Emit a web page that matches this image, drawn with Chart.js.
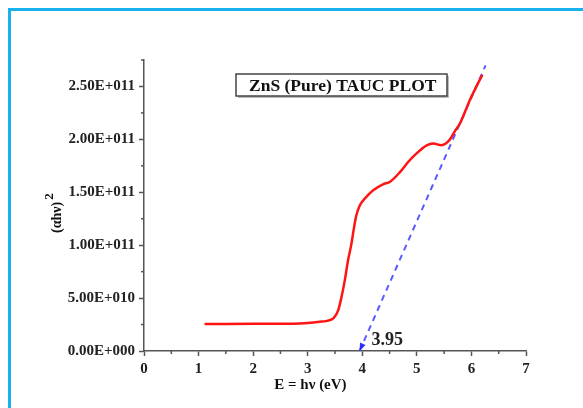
<!DOCTYPE html>
<html>
<head>
<meta charset="utf-8">
<script src="https://cdn.jsdelivr.net/npm/chart.js@4.4.0/dist/chart.umd.min.js"></script>
<style>
html, body { margin: 0; padding: 0; background: #fff; }
#wrap { position: relative; width: 583px; height: 408px; overflow: hidden; }
#frame { position: absolute; left: 8px; top: 8px; width: 700px; height: 500px;
         border-left: 3px solid #17b1ee; border-top: 3px solid #17b1ee; }
canvas { position: absolute; left: 0; top: 0; }
</style>
</head>
<body>
<div id="wrap"><div id="frame"></div><canvas id="c" width="583" height="408"></canvas></div>
<script>
// photon energy E = h nu (eV)
var energy = [1.11, 1.5, 2.0, 2.5, 2.86, 3.0, 3.22, 3.35, 3.47, 3.56, 3.62, 3.68, 3.74, 3.80, 3.84,
              3.89, 3.95, 4.02, 4.10, 4.20, 4.38, 4.51, 4.69, 4.84, 4.99, 5.18, 5.30, 5.45, 5.60,
              5.70, 5.79, 5.97, 6.15, 6.20];
// (alpha h nu)^2
var tauc = [2.55e10, 2.56e10, 2.57e10, 2.58e10, 2.61e10, 2.65e10, 2.76e10, 2.85e10, 3.08e10, 3.87e10,
            5.12e10, 6.7e10, 8.6e10, 10.1e10, 11.4e10, 12.8e10, 13.7e10, 14.25e10, 14.7e10, 15.2e10,
            15.75e10, 16.0e10, 16.9e10, 17.86e10, 18.65e10, 19.43e10, 19.6e10, 19.45e10, 19.95e10,
            20.8e10, 21.5e10, 23.7e10, 25.6e10, 26.1e10];
// extrapolated straight line of the absorption edge
var fitEnergy = [3.95, 6.26];
var fitTauc = [0, 2.70e11];
var bandGap = 3.95;

var yTickValues = [0, 5e10, 1e11, 1.5e11, 2e11, 2.5e11];
var yTickLabels = ['0.00E+000', '5.00E+010', '1.00E+011', '1.50E+011', '2.00E+011', '2.50E+011'];
var xTickValues = [0, 1, 2, 3, 4, 5, 6, 7];
var xTickLabels = ['0', '1', '2', '3', '4', '5', '6', '7'];

var plotTitle = 'ZnS (Pure) TAUC PLOT';
var xTitle = 'E = hν (eV)';
var yTitle = '(αhν)';
var yTitleSup = '2';

var serif = '"Liberation Serif", "Times New Roman", serif';
var axisColor = '#555';

function findLabel(values, labels, v, tol) {
    for (var i = 0; i < values.length; i++) {
        if (Math.abs(values[i] - v) < tol) return labels[i];
    }
    return '';
}

function toPoints(xs, ys) {
    return xs.map(function (x, i) { return { x: x, y: ys[i] }; });
}

// majors are drawn by Chart.js, minors are drawn shorter here
function majorTickColor(tol, values) {
    return function (ctx) {
        if (!ctx.tick) return axisColor;
        return findLabel(values, values, ctx.tick.value, tol) === '' ? 'rgba(0,0,0,0)' : axisColor;
    };
}

var extras = {
    id: 'extras',
    afterDraw: function (chart) {
        var ctx = chart.ctx;
        var xs = chart.scales.x, ys = chart.scales.y;
        var area = chart.chartArea;
        ctx.save();

        // minor ticks
        ctx.strokeStyle = axisColor;
        ctx.lineWidth = 1.5;
        xs.ticks.forEach(function (t) {
            if (findLabel(xTickValues, xTickLabels, t.value, 1e-6) !== '') return;
            var px = xs.getPixelForValue(t.value);
            ctx.beginPath(); ctx.moveTo(px, area.bottom); ctx.lineTo(px, area.bottom + 3); ctx.stroke();
        });
        ys.ticks.forEach(function (t) {
            if (findLabel(yTickValues, yTickLabels, t.value, 1e6) !== '') return;
            var py = ys.getPixelForValue(t.value);
            ctx.beginPath(); ctx.moveTo(area.left, py); ctx.lineTo(area.left - 3, py); ctx.stroke();
        });

        // arrow head at the intercept
        var x0 = xs.getPixelForValue(fitEnergy[0]), y0 = ys.getPixelForValue(fitTauc[0]);
        var x1 = xs.getPixelForValue(fitEnergy[1]), y1 = ys.getPixelForValue(fitTauc[1]);
        var ang = Math.atan2(y0 - y1, x0 - x1);
        ctx.fillStyle = 'rgba(40,40,255,0.95)';
        ctx.beginPath();
        ctx.moveTo(x0, y0);
        ctx.lineTo(x0 - 8 * Math.cos(ang) + 3 * Math.sin(ang), y0 - 8 * Math.sin(ang) - 3 * Math.cos(ang));
        ctx.lineTo(x0 - 8 * Math.cos(ang) - 3 * Math.sin(ang), y0 - 8 * Math.sin(ang) + 3 * Math.cos(ang));
        ctx.closePath();
        ctx.fill();

        // band gap value
        ctx.fillStyle = '#222';
        ctx.font = 'bold 18px ' + serif;
        ctx.textAlign = 'left';
        ctx.textBaseline = 'middle';
        ctx.fillText(String(bandGap), xs.getPixelForValue(bandGap) + 12, ys.getPixelForValue(0) - 11);

        // title box
        var bx = area.left + 92, by = area.top + 14, bw = 211, bh = 22;
        ctx.fillStyle = '#bbb';
        ctx.fillRect(bx + 2, by + 2, bw, bh);
        ctx.fillStyle = '#fff';
        ctx.fillRect(bx, by, bw, bh);
        ctx.strokeStyle = '#444';
        ctx.lineWidth = 1.5;
        ctx.strokeRect(bx, by, bw, bh);
        ctx.fillStyle = '#111';
        ctx.font = 'bold 17.5px ' + serif;
        ctx.fillText(plotTitle, bx + 13, by + bh / 2 + 1);

        // x axis title
        ctx.font = 'bold 15px ' + serif;
        ctx.textAlign = 'center';
        ctx.fillText(xTitle, xs.getPixelForValue(3.05), area.bottom + 34);

        // y axis title with superscript
        ctx.translate(area.left - 87, area.bottom - 118);
        ctx.rotate(-Math.PI / 2);
        ctx.textAlign = 'left';
        ctx.font = 'bold 14px ' + serif;
        var w = ctx.measureText(yTitle).width;
        ctx.fillText(yTitle, 0, 0);
        ctx.font = 'bold 13px ' + serif;
        ctx.fillText(yTitleSup, w + 2, -7);
        ctx.restore();
    }
};

new Chart(document.getElementById('c'), {
    type: 'scatter',
    data: {
        datasets: [
            {
                data: toPoints(energy, tauc),
                showLine: true,
                borderColor: '#ff1414',
                borderWidth: 2.5,
                pointRadius: 0,
                cubicInterpolationMode: 'monotone'
            },
            {
                data: toPoints(fitEnergy, fitTauc),
                showLine: true,
                borderColor: 'rgba(60,60,255,0.85)',
                borderWidth: 2,
                borderDash: [6, 5],
                pointRadius: 0
            }
        ]
    },
    options: {
        responsive: false,
        animation: false,
        layout: { padding: { left: 0, right: 57, top: 60, bottom: 0 } },
        plugins: { legend: { display: false }, tooltip: { enabled: false } },
        scales: {
            x: {
                type: 'linear',
                min: 0, max: 7,
                afterFit: function (s) { s.height = 57; },
                grid: { drawOnChartArea: false, tickLength: 5, tickWidth: 1.5,
                        tickColor: majorTickColor(1e-6, xTickValues) },
                border: { color: axisColor, width: 1.5 },
                ticks: {
                    stepSize: 0.5, autoSkip: false, maxRotation: 0, padding: 4,
                    color: '#222', font: { family: serif, size: 15, weight: 'bold' },
                    callback: function (v) { return findLabel(xTickValues, xTickLabels, v, 1e-6); }
                }
            },
            y: {
                min: 0, max: 2.75e11,
                afterFit: function (s) { s.width = 144; },
                grid: { drawOnChartArea: false, tickLength: 5, tickWidth: 1.5,
                        tickColor: majorTickColor(1e6, yTickValues) },
                border: { color: axisColor, width: 1.5 },
                ticks: {
                    stepSize: 2.5e10, autoSkip: false, padding: 4,
                    color: '#222', font: { family: serif, size: 15, weight: 'bold' },
                    callback: function (v) { return findLabel(yTickValues, yTickLabels, v, 1e6); }
                }
            }
        }
    },
    plugins: [extras]
});
</script>
</body>
</html>
